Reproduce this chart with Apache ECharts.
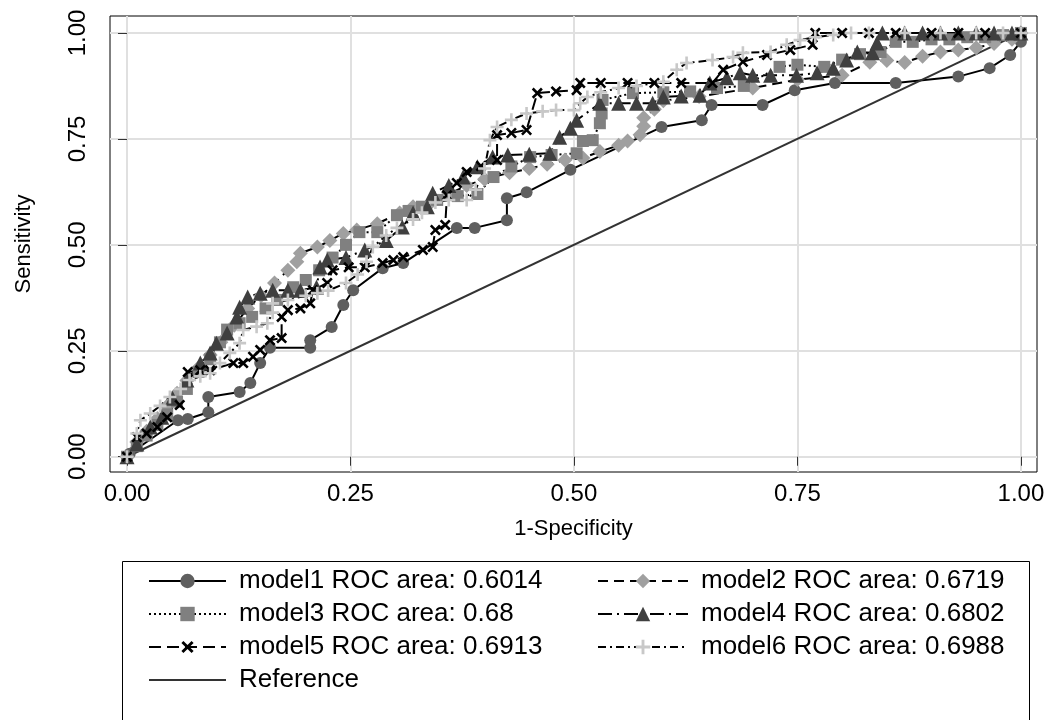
<!DOCTYPE html>
<html>
<head>
<meta charset="utf-8">
<title>ROC comparison</title>
<script src="https://cdn.jsdelivr.net/npm/echarts@6/dist/echarts.min.js"></script>
<style>
  html, body { margin: 0; padding: 0; background: #fff; }
  #chart { width: 1053px; height: 720px; }
</style>
</head>
<body>
<div id="chart"></div>
<script>
// tick values, both axes
var tickValues = [0, 0.25, 0.5, 0.75, 1];

// ROC points: [1-specificity, sensitivity]
var model1 = [[0,0],[0.003,0.007],[0.057,0.086],[0.068,0.089],[0.091,0.105],[0.091,0.141],[0.126,0.153],[0.138,0.174],[0.149,0.221],[0.16,0.257],[0.205,0.257],[0.205,0.275],[0.229,0.306],[0.242,0.358],[0.253,0.393],[0.286,0.445],[0.309,0.457],[0.369,0.54],[0.389,0.54],[0.425,0.558],[0.425,0.61],[0.447,0.624],[0.496,0.677],[0.598,0.778],[0.643,0.794],[0.654,0.83],[0.711,0.83],[0.747,0.865],[0.792,0.882],[0.86,0.882],[0.93,0.897],[0.965,0.917],[0.988,0.948],[1,0.979],[1,1]];
var model2 = [[0,0],[0.011,0.035],[0.022,0.06],[0.034,0.09],[0.045,0.12],[0.056,0.15],[0.067,0.18],[0.08,0.21],[0.093,0.24],[0.105,0.27],[0.12,0.31],[0.135,0.35],[0.15,0.38],[0.165,0.41],[0.18,0.44],[0.19,0.46],[0.194,0.48],[0.213,0.495],[0.227,0.51],[0.242,0.527],[0.257,0.535],[0.28,0.55],[0.305,0.575],[0.32,0.59],[0.34,0.6],[0.36,0.62],[0.38,0.64],[0.4,0.655],[0.428,0.67],[0.45,0.68],[0.47,0.69],[0.49,0.7],[0.51,0.705],[0.529,0.72],[0.55,0.735],[0.56,0.745],[0.574,0.76],[0.578,0.78],[0.578,0.8],[0.59,0.82],[0.6,0.84],[0.64,0.85],[0.7,0.87],[0.75,0.89],[0.8,0.9],[0.831,0.931],[0.85,0.935],[0.87,0.93],[0.89,0.945],[0.91,0.955],[0.93,0.96],[0.95,0.965],[0.97,0.975],[0.99,0.985],[1,1]];
var model3 = [[0,0],[0.011,0.025],[0.022,0.05],[0.034,0.075],[0.045,0.1],[0.056,0.13],[0.067,0.16],[0.08,0.2],[0.093,0.23],[0.104,0.27],[0.112,0.3],[0.126,0.315],[0.14,0.33],[0.155,0.35],[0.168,0.37],[0.186,0.4],[0.2,0.417],[0.215,0.44],[0.23,0.47],[0.245,0.5],[0.26,0.53],[0.28,0.53],[0.302,0.57],[0.315,0.58],[0.33,0.59],[0.347,0.606],[0.37,0.615],[0.392,0.62],[0.41,0.66],[0.43,0.685],[0.451,0.707],[0.475,0.712],[0.503,0.716],[0.51,0.745],[0.521,0.747],[0.529,0.787],[0.531,0.81],[0.532,0.842],[0.566,0.858],[0.6,0.86],[0.63,0.862],[0.66,0.87],[0.69,0.875],[0.73,0.92],[0.75,0.925],[0.78,0.92],[0.8,0.937],[0.82,0.95],[0.843,0.955],[0.86,0.979],[0.879,0.979],[0.9,0.985],[0.92,0.985],[0.94,0.99],[0.96,0.99],[0.98,0.995],[1,1]];
var model4 = [[0,0],[0.011,0.03],[0.026,0.07],[0.039,0.093],[0.051,0.138],[0.067,0.181],[0.082,0.221],[0.093,0.245],[0.1,0.268],[0.112,0.292],[0.123,0.33],[0.126,0.353],[0.135,0.377],[0.149,0.386],[0.163,0.393],[0.18,0.393],[0.194,0.393],[0.212,0.4],[0.216,0.448],[0.224,0.464],[0.245,0.47],[0.266,0.488],[0.29,0.51],[0.308,0.542],[0.32,0.575],[0.336,0.59],[0.342,0.622],[0.36,0.64],[0.376,0.66],[0.392,0.684],[0.409,0.707],[0.426,0.712],[0.45,0.714],[0.473,0.716],[0.484,0.754],[0.496,0.775],[0.503,0.794],[0.529,0.834],[0.55,0.834],[0.57,0.834],[0.588,0.834],[0.6,0.849],[0.62,0.851],[0.641,0.853],[0.652,0.882],[0.671,0.894],[0.686,0.906],[0.7,0.9],[0.72,0.9],[0.749,0.9],[0.772,0.906],[0.79,0.917],[0.805,0.936],[0.817,0.955],[0.834,0.953],[0.839,0.976],[0.845,1],[0.87,1],[0.89,1],[0.91,1],[0.93,1],[0.95,1],[0.97,1],[0.99,1],[1,1]];
var model5 = [[0,0],[0.011,0.046],[0.022,0.055],[0.034,0.07],[0.045,0.093],[0.059,0.122],[0.068,0.2],[0.082,0.204],[0.093,0.204],[0.119,0.221],[0.13,0.221],[0.141,0.236],[0.149,0.252],[0.16,0.275],[0.173,0.28],[0.173,0.33],[0.18,0.346],[0.194,0.35],[0.205,0.362],[0.208,0.393],[0.224,0.41],[0.23,0.44],[0.248,0.447],[0.266,0.447],[0.286,0.457],[0.298,0.464],[0.309,0.471],[0.331,0.488],[0.342,0.495],[0.345,0.535],[0.356,0.547],[0.358,0.617],[0.369,0.646],[0.38,0.672],[0.396,0.686],[0.414,0.7],[0.414,0.759],[0.43,0.764],[0.447,0.771],[0.459,0.858],[0.48,0.862],[0.503,0.865],[0.507,0.882],[0.53,0.882],[0.56,0.882],[0.59,0.882],[0.62,0.882],[0.655,0.882],[0.667,0.913],[0.689,0.932],[0.716,0.948],[0.742,0.96],[0.767,0.972],[0.77,1],[0.8,1],[0.83,1],[0.86,1],[0.9,1],[0.93,1],[0.96,1],[1,1]];
var model6 = [[0,0],[0.011,0.055],[0.015,0.086],[0.026,0.102],[0.037,0.12],[0.048,0.141],[0.06,0.16],[0.07,0.181],[0.082,0.19],[0.093,0.197],[0.104,0.221],[0.115,0.245],[0.126,0.268],[0.13,0.299],[0.145,0.307],[0.157,0.315],[0.163,0.34],[0.163,0.362],[0.18,0.37],[0.2,0.38],[0.213,0.386],[0.225,0.392],[0.245,0.41],[0.258,0.43],[0.268,0.46],[0.275,0.495],[0.29,0.522],[0.302,0.54],[0.32,0.56],[0.33,0.576],[0.345,0.6],[0.36,0.606],[0.38,0.606],[0.39,0.63],[0.4,0.68],[0.406,0.747],[0.414,0.778],[0.43,0.795],[0.447,0.81],[0.465,0.815],[0.48,0.818],[0.5,0.818],[0.507,0.834],[0.515,0.849],[0.53,0.86],[0.55,0.87],[0.57,0.875],[0.6,0.885],[0.615,0.913],[0.626,0.929],[0.655,0.936],[0.678,0.943],[0.689,0.953],[0.72,0.955],[0.738,0.972],[0.753,0.983],[0.77,0.99],[0.79,0.995],[0.81,1],[0.83,1],[0.87,1],[0.91,1],[0.95,1],[0.98,1],[1,1]];
var diagonal = [[0,0],[1,1]];

var names = [
  "model1 ROC area: 0.6014",
  "model2 ROC area: 0.6719",
  "model3 ROC area: 0.68",
  "model4 ROC area: 0.6802",
  "model5 ROC area: 0.6913",
  "model6 ROC area: 0.6988",
  "Reference"
];

var FONT = "'Liberation Sans', Arial, sans-serif";
var plusPath = "path://M4,0H6V4H10V6H6V10H4V6H0V4H4Z";

function rocSeries(name, data, symbol, size, color, dash, rotate) {
  return {
    name: name,
    type: "line",
    data: data,
    symbol: symbol,
    symbolSize: size,
    symbolRotate: rotate || 0,
    showAllSymbol: true,
    itemStyle: { color: color },
    lineStyle: { color: "#000", width: 2, type: dash },
    emphasis: { disabled: true }
  };
}

var chart = echarts.init(document.getElementById("chart"));

var axisCommon = {
  type: "value",
  axisLine: { show: false },
  axisTick: { show: true, customValues: tickValues, length: 9, lineStyle: { color: "#333", width: 1 } },
  axisLabel: {
    customValues: tickValues,
    color: "#000",
    fontSize: 24,
    fontFamily: FONT,
    formatter: function (v) { return v.toFixed(2); }
  },
  splitLine: { show: true, lineStyle: { color: "#e0e0e0", width: 2 } },
  nameLocation: "middle",
  nameTextStyle: { color: "#000", fontSize: 22, fontFamily: FONT }
};

var legendText = { color: "#000", fontSize: 26, fontFamily: FONT, lineHeight: 26, padding: [0, 0, 0, 8] };

chart.setOption({
  animation: false,
  backgroundColor: "#fff",
  grid: {
    left: 110, top: 16, right: 16, bottom: 248,
    show: true, borderColor: "#000", borderWidth: 1, backgroundColor: "transparent"
  },
  xAxis: Object.assign({}, axisCommon, {
    min: -0.019, max: 1.018,
    name: "1-Specificity", nameGap: 46,
    axisLabel: Object.assign({}, axisCommon.axisLabel, { margin: 10 })
  }),
  yAxis: Object.assign({}, axisCommon, {
    min: -0.036, max: 1.04,
    name: "Sensitivity", nameGap: 75,
    axisLabel: Object.assign({}, axisCommon.axisLabel, { rotate: 90, margin: 20 })
  }),
  legend: [
    {
      orient: "vertical", left: 148, top: 568, padding: 0,
      itemWidth: 77, itemHeight: 18, itemGap: 7,
      textStyle: legendText,
      data: [names[0], names[2], names[4], { name: names[6], icon: "path://M0,0H77V2H0Z" }]
    },
    {
      orient: "vertical", left: 597, top: 568, padding: 0,
      itemWidth: 90, itemHeight: 18, itemGap: 7,
      textStyle: legendText,
      data: [names[1], names[3], names[5]]
    }
  ],
  graphic: [{
    type: "rect", left: 120, top: 559, silent: true,
    shape: { width: 907, height: 159 },
    style: { fill: "none", stroke: "#000", lineWidth: 1 }
  }],
  series: [
    rocSeries(names[0], model1, "circle", 12, "#5f5f5f", "solid"),
    rocSeries(names[1], model2, "diamond", 15, "#a0a0a0", [10, 6]),
    rocSeries(names[2], model3, "rect", 12, "#808080", [2, 3]),
    rocSeries(names[3], model4, "triangle", 15, "#3f3f3f", [14, 5, 2, 5]),
    rocSeries(names[4], model5, plusPath, 13, "#000", [12, 6], 45),
    rocSeries(names[5], model6, plusPath, 13, "#c8c8c8", [8, 4, 2, 4]),
    {
      name: names[6], type: "line", data: diagonal, symbol: "none",
      lineStyle: { color: "#333", width: 2 }, itemStyle: { color: "#333" },
      emphasis: { disabled: true }
    }
  ]
});
</script>
</body>
</html>
